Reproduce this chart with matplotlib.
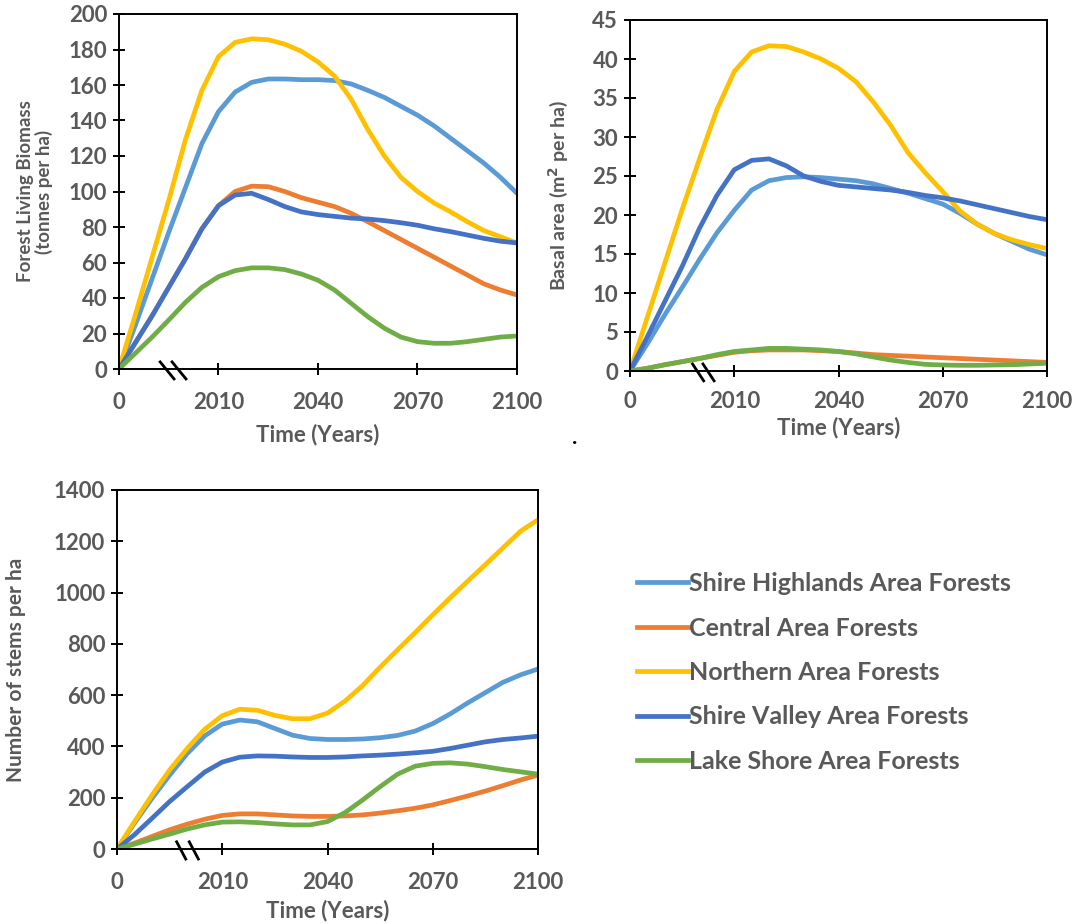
import matplotlib
matplotlib.use("Agg")
import matplotlib.pyplot as plt
from matplotlib.lines import Line2D

plt.rcParams['font.family'] = ['Lato', 'DejaVu Sans']

# ---------------- data ----------------
years = [1980, 1985, 1990, 1995, 2000, 2005, 2010, 2015, 2020, 2025, 2030, 2035, 2040,
         2045, 2050, 2055, 2060, 2065, 2070, 2075, 2080, 2085, 2090, 2095, 2100]
tick_pos = [1980, 2010, 2040, 2070, 2100]
tick_labels = ['0', '2010', '2040', '2070', '2100']

series_names = ['Shire Highlands Area Forests', 'Central Area Forests', 'Northern Area Forests',
                'Shire Valley Area Forests', 'Lake Shore Area Forests']
colors = ['#5B9BD5', '#ED7D31', '#FFC000', '#4472C4', '#70AD47']

# Forest living biomass (tonnes per ha)
bio_shire_highlands = [0, 25, 51, 77, 102, 127, 145, 156, 161.5, 163.4, 163.4, 163, 163, 162.5, 160.6,
                       157, 153, 148, 143, 137, 130, 123, 116, 108, 99]
bio_central = [0, 15, 30, 46, 62, 79, 92, 100, 103, 102.7, 100, 96.5, 94, 91.5, 87.7, 83, 78, 73, 68,
               63, 58, 53, 48, 44.5, 41.7]
bio_northern = [0, 31, 63, 95, 129, 157, 176, 184, 186, 185.5, 183, 179, 173, 165, 152, 135, 120,
                108, 100, 93.5, 88.5, 83, 78, 74.5, 71]
bio_shire_valley = [0, 15, 30, 46, 62, 79, 92, 98, 99, 95.5, 91.5, 88.5, 87, 86, 85, 84.5, 83.6,
                    82.4, 81, 79, 77.4, 75.5, 73.6, 72, 71]
bio_lake_shore = [0, 9, 18, 27.6, 37.5, 46, 52, 55.4, 57, 57, 56, 53.5, 50, 44.5, 37, 29.5, 23, 18,
                  15.4, 14.5, 14.5, 15.4, 16.7, 18, 18.6]

# Basal area (m2 per ha)
ba_shire_highlands = [0, 3.5, 7.2, 10.7, 14.3, 17.7, 20.6, 23.2, 24.4, 24.8, 24.9, 24.8, 24.6, 24.4,
                      24, 23.4, 22.8, 22.1, 21.4, 20.2, 18.8, 17.6, 16.6, 15.6, 14.9]
ba_central = [0, 0.35, 0.8, 1.2, 1.6, 2.0, 2.4, 2.6, 2.7, 2.7, 2.7, 2.6, 2.5, 2.3, 2.1, 2.0, 1.9,
              1.8, 1.7, 1.6, 1.5, 1.4, 1.3, 1.2, 1.1]
ba_northern = [0, 6.9, 13.8, 20.7, 27.2, 33.5, 38.4, 40.9, 41.7, 41.6, 40.9, 40, 38.8, 37.1, 34.5,
               31.5, 28, 25.4, 23, 20.5, 18.8, 17.6, 16.8, 16.2, 15.7]
ba_shire_valley = [0, 4.4, 8.9, 13.4, 18.3, 22.5, 25.8, 27, 27.2, 26.3, 25, 24.3, 23.8, 23.6, 23.4,
                   23.2, 22.9, 22.5, 22.2, 21.8, 21.3, 20.8, 20.3, 19.8, 19.4]
ba_lake_shore = [0, 0.35, 0.8, 1.2, 1.6, 2.1, 2.5, 2.7, 2.9, 2.9, 2.8, 2.7, 2.5, 2.2, 1.8, 1.4, 1.1,
                 0.85, 0.77, 0.73, 0.73, 0.77, 0.8, 0.9, 1.0]

# Number of stems per ha
st_shire_highlands = [0, 101, 198, 288, 372, 441, 487, 503, 496, 470, 444, 431, 427, 427, 429, 434,
                      443, 460, 489, 527, 570, 610, 650, 679, 702]
st_central = [0, 23, 49, 75, 97, 116, 131, 137, 137, 133, 129, 127, 127, 129, 133, 140, 149, 159,
              172, 189, 207, 226, 247, 269, 288]
st_northern = [0, 107, 211, 308, 392, 467, 520, 545, 541, 521, 508, 508, 530, 577, 637, 709, 777,
               844, 913, 980, 1045, 1109, 1174, 1239, 1284]
st_shire_valley = [0, 56, 120, 185, 243, 300, 339, 358, 363, 362, 359, 357, 357, 359, 363, 366, 370,
                   375, 381, 392, 405, 418, 427, 433, 440]
st_lake_shore = [0, 19, 39, 58, 78, 94, 105, 106, 103, 98, 94, 94, 107, 142, 191, 243, 292, 323,
                 334, 336, 331, 321, 310, 301, 292]

GREY = '#595959'

fig = plt.figure(figsize=(10.75, 9.24), dpi=100)

def setup(ax, data, ylim, ystep, ylabel, ylab_x, xlab_y, xpad, brk, ylab_size):
    for vals, c, name in zip(data, colors, series_names):
        ax.plot(years, vals, color=c, lw=3.4, solid_joinstyle='round',
                solid_capstyle='round', label=name)
    ax.set_xlim(1980, 2100)
    ax.set_ylim(0, ylim)
    ax.set_yticks(list(range(0, ylim + 1, ystep)))
    ax.set_xticks(tick_pos)
    ax.set_xticklabels(tick_labels)
    for s in ax.spines.values():
        s.set_color('black')
        s.set_linewidth(1.4)
    ax.tick_params(axis='both', direction='inout', length=9, width=1.4, color='black',
                   labelcolor=GREY, labelsize=16)
    ax.tick_params(axis='x', pad=xpad)
    ax.tick_params(axis='y', pad=4)
    for lab in ax.get_xticklabels() + ax.get_yticklabels():
        lab.set_fontweight('bold')
    ax.set_ylabel(ylabel, color=GREY, fontsize=ylab_size, fontweight='bold', linespacing=1.05)
    ax.yaxis.set_label_coords(ylab_x, 0.5)
    ax.set_xlabel('Time (Years)', color=GREY, fontsize=16, fontweight='bold')
    ax.xaxis.set_label_coords(0.5, xlab_y)
    # axis break marks
    tr = ax.get_xaxis_transform()
    for x0 in brk[0]:
        ax.plot([x0, x0 + brk[1]], [0.02, -0.028], transform=tr, color='black',
                lw=2.0, clip_on=False, zorder=5)

ax1 = fig.add_axes([119 / 1075, 1 - 369 / 924, 398 / 1075, 355 / 924])
setup(ax1, [bio_shire_highlands, bio_central, bio_northern, bio_shire_valley, bio_lake_shore],
      200, 20, 'Forest Living Biomass\n(tonnes per ha)', -0.165, -0.155, 12,
      ([1992.4, 1996.0], 4.2), 13.5)

ax2 = fig.add_axes([630 / 1075, 1 - 371 / 924, 417 / 1075, 351 / 924])
setup(ax2, [ba_shire_highlands, ba_central, ba_northern, ba_shire_valley, ba_lake_shore],
      45, 5, 'Basal area (m$^\\mathbf{2}$ per ha)', -0.145, -0.13, 10,
      ([1998.0, 2001.0], 3.2), 14)

ax3 = fig.add_axes([117 / 1075, 1 - 849 / 924, 421 / 1075, 359 / 924])
setup(ax3, [st_shire_highlands, st_central, st_northern, st_shire_valley, st_lake_shore],
      1400, 200, 'Number of stems per ha', -0.215, -0.14, 12,
      ([1997.0, 2000.6], 2.6), 15)

fig.text(575 / 1075, 1 - 437 / 924, '.', fontsize=16, fontweight='bold', color='black',
         ha='center', va='center')

handles = [Line2D([0], [0], color=c, lw=3.4) for c in colors]
leg = fig.legend(handles, series_names, loc='upper left',
                 bbox_to_anchor=(637 / 1075, 1 - 572 / 924), frameon=False,
                 handlelength=2.05, handletextpad=0.02, labelspacing=0.86,
                 borderpad=0, borderaxespad=0,
                 prop={'family': ['Lato', 'DejaVu Sans'], 'weight': 'bold', 'size': 18})
for t in leg.get_texts():
    t.set_color(GREY)

fig.savefig('out.png', dpi=100)
